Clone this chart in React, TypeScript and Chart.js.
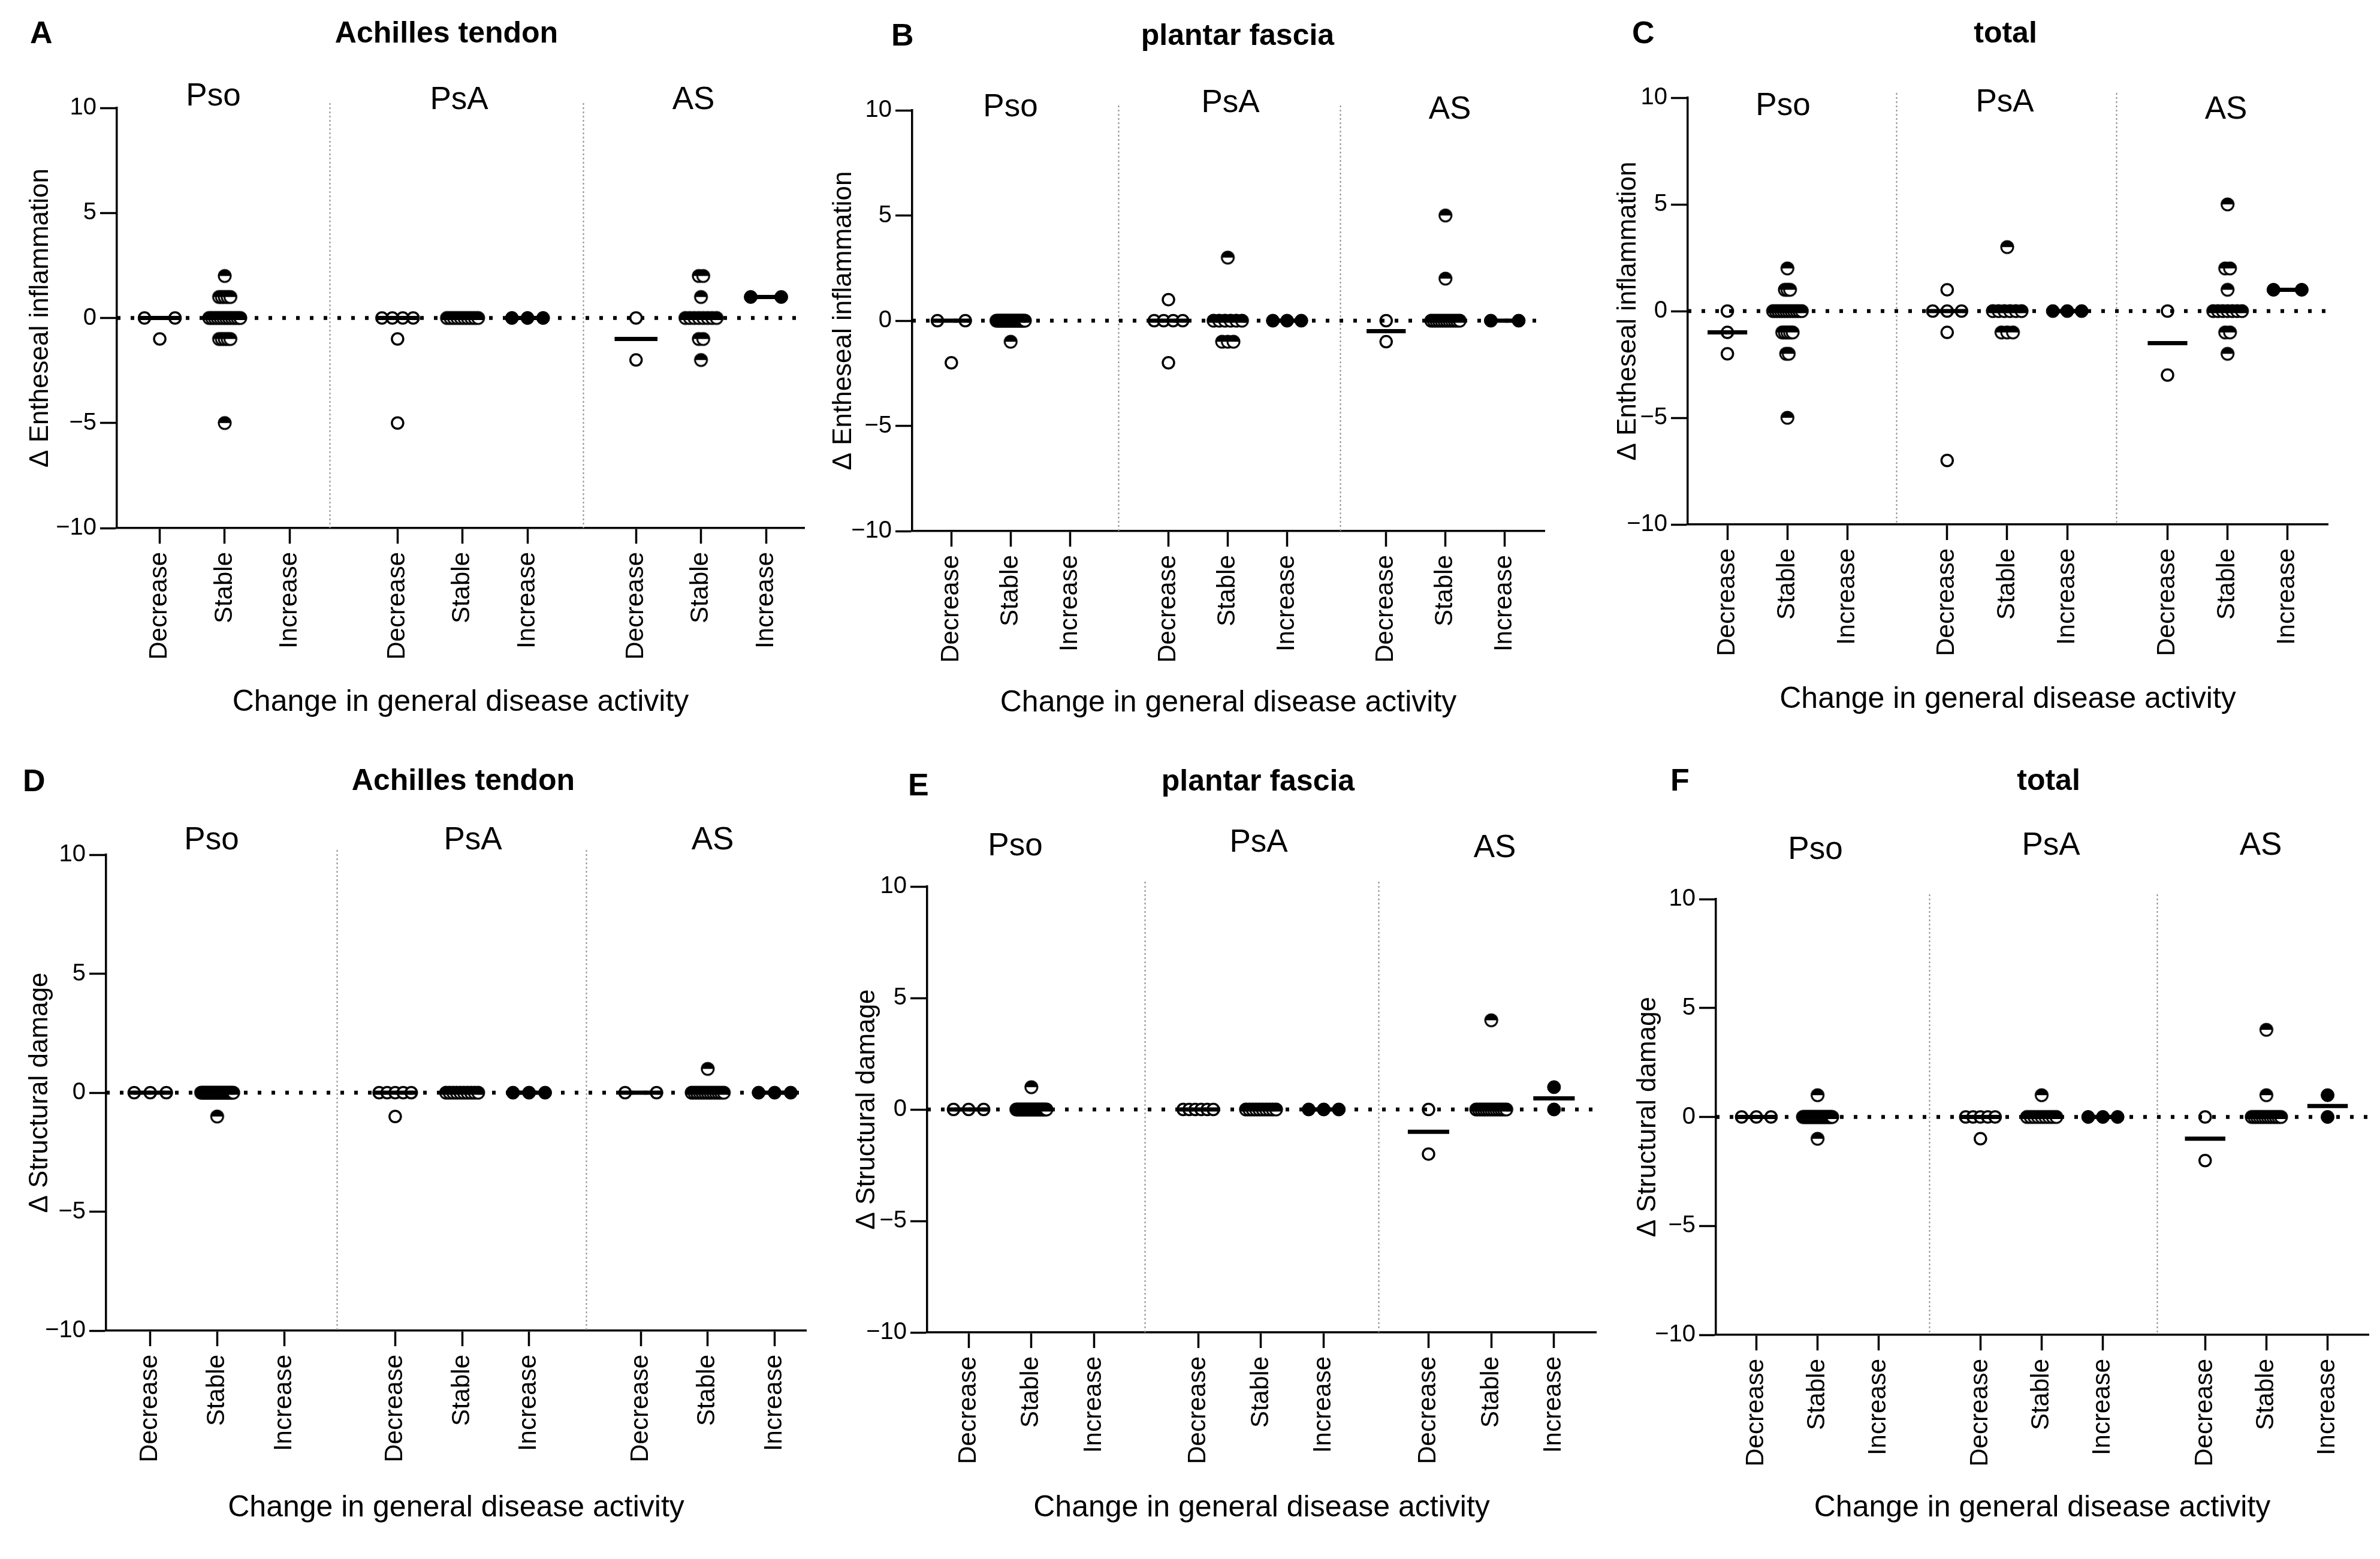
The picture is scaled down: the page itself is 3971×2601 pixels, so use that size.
import React, { useEffect, useRef } from "react";
import { Chart, registerables } from "chart.js";

Chart.register(...registerables);

const FONT = "'Liberation Sans', Arial, Helvetica, sans-serif";

// ---------- categories & ticks ----------
const ACTIVITY = ["Decrease", "Stable", "Increase"];
const GROUPS = ["Pso", "PsA", "AS"];
const CAT_POS = [0, 1, 2, 3.66, 4.66, 5.66, 7.33, 8.33, 9.33];
const Y_TICKS = [-10, -5, 0, 5, 10];
const X_TITLE = "Change in general disease activity";

// ---------- data: [Decrease, Stable, Increase] per disease group ----------
// A: Achilles tendon, entheseal inflammation
const A_PSO = [[0, 0, -1], [2, 1, 1, 1, 1, 1, 0, 0, 0, 0, 0, 0, 0, 0, 0, 0, 0, 0, -1, -1, -1, -1, -1, -5], []];
const A_PSA = [[0, 0, 0, 0, -1, -5], [0, 0, 0, 0, 0, 0, 0, 0, 0, 0], [0, 0, 0]];
const A_AS = [[0, -2], [2, 2, 1, 0, 0, 0, 0, 0, 0, 0, 0, -1, -1, -2], [1, 1]];
// B: plantar fascia, entheseal inflammation
const B_PSO = [[0, 0, -2], [0, 0, 0, 0, 0, 0, 0, 0, 0, 0, 0, 0, 0, 0, 0, 0, 0, 0, 0, 0, 0, 0, 0, -1], []];
const B_PSA = [[1, 0, 0, 0, 0, -2], [3, 0, 0, 0, 0, 0, 0, -1, -1, -1], [0, 0, 0]];
const B_AS = [[0, -1], [5, 2, 0, 0, 0, 0, 0, 0, 0, 0, 0, 0, 0, 0], [0, 0]];
// C: total, entheseal inflammation
const C_PSO = [[0, -1, -2], [2, 1, 1, 1, 0, 0, 0, 0, 0, 0, 0, 0, 0, 0, 0, 0, -1, -1, -1, -1, -1, -2, -2, -5], []];
const C_PSA = [[1, 0, 0, 0, -1, -7], [3, 0, 0, 0, 0, 0, 0, -1, -1, -1], [0, 0, 0]];
const C_AS = [[0, -3], [5, 2, 2, 1, 0, 0, 0, 0, 0, 0, 0, -1, -1, -2], [1, 1]];
// D: Achilles tendon, structural damage
const D_PSO = [[0, 0, 0], [0, 0, 0, 0, 0, 0, 0, 0, 0, 0, 0, 0, 0, 0, 0, 0, 0, 0, 0, 0, 0, 0, 0, -1], []];
const D_PSA = [[0, 0, 0, 0, 0, -1], [0, 0, 0, 0, 0, 0, 0, 0, 0, 0], [0, 0, 0]];
const D_AS = [[0, 0], [1, 0, 0, 0, 0, 0, 0, 0, 0, 0, 0, 0, 0, 0], [0, 0, 0]];
// E: plantar fascia, structural damage
const E_PSO = [[0, 0, 0], [1, 0, 0, 0, 0, 0, 0, 0, 0, 0, 0, 0, 0, 0, 0, 0, 0, 0, 0, 0, 0, 0, 0, 0], []];
const E_PSA = [[0, 0, 0, 0, 0, 0], [0, 0, 0, 0, 0, 0, 0, 0, 0, 0], [0, 0, 0]];
const E_AS = [[0, -2], [4, 0, 0, 0, 0, 0, 0, 0, 0, 0, 0, 0, 0, 0], [1, 0]];
// F: total, structural damage
const F_PSO = [[0, 0, 0], [1, 0, 0, 0, 0, 0, 0, 0, 0, 0, 0, 0, 0, 0, 0, 0, 0, 0, 0, 0, 0, 0, 0, -1], []];
const F_PSA = [[0, 0, 0, 0, 0, -1], [1, 0, 0, 0, 0, 0, 0, 0, 0, 0], [0, 0, 0]];
const F_AS = [[0, -2], [4, 1, 0, 0, 0, 0, 0, 0, 0, 0, 0, 0, 0, 0], [1, 0]];

// ---------- layout (pixels) ----------
type PanelDef = {
  letter: string; title: string; yTitle: string; data: number[][][];
  L: number; R: number; T: number; B: number; xMax: number; dividers: number[];
  yTitleX: number; xTitleY: number; letterPos: number[]; titlePos: number[]; groupPos: number[][];
};

const YT_INF = "Δ Entheseal inflammation";
const YT_STR = "Δ Structural damage";

const PANELS: PanelDef[] = [
  { letter: "A", title: "Achilles tendon", yTitle: YT_INF, data: [A_PSO, A_PSA, A_AS],
    L: 195, R: 1342, T: 180, B: 881, xMax: 9.92, dividers: [2.61, 6.52],
    yTitleX: 68, xTitleY: 1172, letterPos: [50, 35], titlePos: [745, 35],
    groupPos: [[356, 138], [766, 144], [1157, 144]] },
  { letter: "B", title: "plantar fascia", yTitle: YT_INF, data: [B_PSO, B_PSA, B_AS],
    L: 1522, R: 2577, T: 184, B: 886, xMax: 10.0, dividers: [2.82, 6.55],
    yTitleX: 1408, xTitleY: 1173, letterPos: [1487, 39], titlePos: [2065, 39],
    groupPos: [[1686, 156], [2053, 149], [2419, 160]] },
  { letter: "C", title: "total", yTitle: YT_INF, data: [C_PSO, C_PSA, C_AS],
    L: 2816, R: 3884, T: 163, B: 875, xMax: 10.0, dividers: [2.81, 6.48],
    yTitleX: 2717, xTitleY: 1167, letterPos: [2723, 35], titlePos: [3346, 35],
    groupPos: [[2975, 154], [3345, 148], [3714, 160]] },
  { letter: "D", title: "Achilles tendon", yTitle: YT_STR, data: [D_PSO, D_PSA, D_AS],
    L: 177, R: 1345, T: 1426, B: 2220, xMax: 9.8, dividers: [2.79, 6.51],
    yTitleX: 67, xTitleY: 2516, letterPos: [38, 1283], titlePos: [773, 1282],
    groupPos: [[353, 1379], [789, 1379], [1189, 1379]] },
  { letter: "E", title: "plantar fascia", yTitle: YT_STR, data: [E_PSO, E_PSA, E_AS],
    L: 1547, R: 2663, T: 1479, B: 2223, xMax: 10.0, dividers: [2.81, 6.53],
    yTitleX: 1447, xTitleY: 2516, letterPos: [1515, 1290], titlePos: [2099, 1283],
    groupPos: [[1694, 1389], [2100, 1383], [2494, 1392]] },
  { letter: "F", title: "total", yTitle: YT_STR, data: [F_PSO, F_PSA, F_AS],
    L: 2863, R: 3952, T: 1500, B: 2227, xMax: 10.0, dividers: [2.82, 6.54],
    yTitleX: 2750, xTitleY: 2516, letterPos: [2787, 1282], titlePos: [3418, 1282],
    groupPos: [[3029, 1395], [3422, 1388], [3772, 1388]] },
];

const X_MIN = -0.66;
const SPREAD = 0.48;
const MEDIAN_HALF = 0.33;

function swarm(values: number[], pos: number) {
  const rows = new Map<number, number>();
  values.forEach((v) => rows.set(v, (rows.get(v) || 0) + 1));
  let maxRow = 0;
  rows.forEach((n) => { if (n > maxRow) maxRow = n; });
  const step = maxRow > 1 ? Math.min(0.47, SPREAD / (maxRow - 1)) : 0;
  const seen = new Map<number, number>();
  return values.map((v) => {
    const n = rows.get(v) as number;
    const i = seen.get(v) || 0;
    seen.set(v, i + 1);
    return { x: pos + (i - (n - 1) / 2) * step, y: v };
  });
}

function median(values: number[]) {
  const s = [...values].sort((a, b) => a - b);
  const m = Math.floor(s.length / 2);
  return s.length % 2 ? s[m] : (s[m - 1] + s[m]) / 2;
}

let halfImg: HTMLCanvasElement | null = null;
function halfCircle() {
  if (halfImg) return halfImg;
  const c = document.createElement("canvas");
  c.width = 26; c.height = 26;
  const g = c.getContext("2d") as CanvasRenderingContext2D;
  const r = 10;
  g.beginPath(); g.arc(13, 13, r, 0, Math.PI * 2); g.fillStyle = "#fff"; g.fill();
  g.beginPath(); g.arc(13, 13, r, Math.PI, Math.PI * 2); g.closePath(); g.fillStyle = "#000"; g.fill();
  g.beginPath(); g.arc(13, 13, r, 0, Math.PI * 2); g.lineWidth = 3; g.strokeStyle = "#000"; g.stroke();
  halfImg = c;
  return c;
}

function Panel({ p }: { p: PanelDef }) {
  const ref = useRef<HTMLCanvasElement>(null);
  const canvasLeft = Math.max(0, p.yTitleX - 40);
  const padT = 40;
  const padR = Math.min(40, 3971 - p.R);
  const canvasTop = p.T - padT;
  const width = p.R + padR - canvasLeft;
  const yAxisW = p.L - canvasLeft;
  const xAxisH = p.xTitleY + 30 - p.B;
  const height = padT + (p.B - p.T) + xAxisH;
  const yTitleSize = 44;
  const yTitlePad = p.yTitleX - canvasLeft - (yTitleSize * 1.2) / 2;

  useEffect(() => {
    const half = halfCircle();
    const datasets: any[] = [];
    p.data.forEach((group, g) => {
      group.forEach((vals, c) => {
        if (!vals.length) return;
        const pos = CAT_POS[g * 3 + c];
        const common = { type: "scatter", data: swarm(vals, pos), order: 3 };
        if (c === 0) {
          datasets.push({ ...common, pointStyle: "circle", pointRadius: 9.5,
            pointBackgroundColor: "#fff", pointBorderColor: "#000", pointBorderWidth: 3.5 });
        } else if (c === 1) {
          datasets.push({ ...common, pointStyle: half, pointRadius: 11 });
        } else {
          datasets.push({ ...common, pointStyle: "circle", pointRadius: 11,
            pointBackgroundColor: "#000", pointBorderColor: "#000", pointBorderWidth: 1 });
        }
        const m = median(vals);
        datasets.push({ type: "line", order: 2,
          data: [{ x: pos - MEDIAN_HALF, y: m }, { x: pos + MEDIAN_HALF, y: m }],
          borderColor: "#000", borderWidth: 7, borderCapStyle: "butt", pointRadius: 0, fill: false });
      });
    });
    datasets.push({ type: "line", order: 1,
      data: [{ x: X_MIN, y: 0 }, { x: p.xMax, y: 0 }],
      borderColor: "#000", borderWidth: 6.5, borderDash: [6, 17], borderCapStyle: "butt",
      pointRadius: 0, fill: false });

    const dividerPlugin = {
      id: "dividers",
      beforeDatasetsDraw(chart: any) {
        const { ctx, chartArea, scales } = chart;
        ctx.save();
        ctx.strokeStyle = "#8f8f8f";
        ctx.lineWidth = 2;
        ctx.setLineDash([3, 4]);
        p.dividers.forEach((d) => {
          const px = Math.round(scales.x.getPixelForValue(d)) + 0.5;
          ctx.beginPath();
          ctx.moveTo(px, chartArea.top - 8);
          ctx.lineTo(px, chartArea.bottom);
          ctx.stroke();
        });
        ctx.restore();
      },
    };

    const chart = new Chart(ref.current as HTMLCanvasElement, {
      type: "scatter",
      data: { datasets },
      plugins: [dividerPlugin],
      options: {
        animation: false,
        responsive: false,
        devicePixelRatio: 1,
        events: [],
        layout: { padding: { left: 0, right: padR, top: padT, bottom: 0 } },
        plugins: { legend: { display: false }, tooltip: { enabled: false } },
        scales: {
          x: {
            type: "linear",
            min: X_MIN,
            max: p.xMax,
            afterBuildTicks: (s: any) => { s.ticks = CAT_POS.map((v) => ({ value: v })); },
            afterFit: (s: any) => { s.height = xAxisH; },
            ticks: {
              autoSkip: false, minRotation: 90, maxRotation: 90, padding: 14,
              color: "#000", font: { family: FONT, size: 42 },
              callback: (_v: any, i: number) => ACTIVITY[i % 3],
            },
            grid: { display: true, drawOnChartArea: false, drawTicks: true, tickLength: 26,
              tickWidth: 3.5, tickColor: "#000" },
            border: { display: true, color: "#000", width: 3.5 },
            title: { display: true, text: X_TITLE, color: "#000",
              font: { family: FONT, size: 50 }, padding: { top: 0, bottom: 0 } },
          },
          y: {
            type: "linear",
            min: -10,
            max: 10,
            afterBuildTicks: (s: any) => { s.ticks = Y_TICKS.map((v) => ({ value: v })); },
            afterFit: (s: any) => { s.width = yAxisW; },
            ticks: {
              padding: 6, color: "#000", font: { family: FONT, size: 40 },
              callback: (v: any) => (Number(v) < 0 ? "\u2212" + Math.abs(Number(v)) : String(v)),
            },
            grid: { display: true, drawOnChartArea: false, drawTicks: true, tickLength: 28,
              tickWidth: 3.5, tickColor: "#000" },
            border: { display: true, color: "#000", width: 3.5 },
            title: { display: true, text: p.yTitle, color: "#000",
              font: { family: FONT, size: yTitleSize }, padding: { top: yTitlePad, bottom: 0 } },
          },
        },
      } as any,
    } as any);
    return () => chart.destroy();
  }, []);

  const text = (s: string, x: number, capTop: number, size: number, bold: boolean, center: boolean, key: string) => (
    <div key={key} style={{
      position: "absolute", left: x, top: capTop - 0.13 * size, fontSize: size, lineHeight: 1,
      fontWeight: bold ? 700 : 400, fontFamily: FONT, color: "#000", whiteSpace: "nowrap",
      transform: center ? "translateX(-50%)" : undefined,
    }}>{s}</div>
  );

  return (
    <>
      <canvas ref={ref} width={width} height={height}
        style={{ position: "absolute", left: canvasLeft, top: canvasTop, width, height }} />
      {text(p.letter, p.letterPos[0], p.letterPos[1], 52, true, false, "l")}
      {text(p.title, p.titlePos[0], p.titlePos[1], 50, true, true, "t")}
      {GROUPS.map((g, i) => text(g, p.groupPos[i][0], p.groupPos[i][1], 53, false, true, "g" + i))}
    </>
  );
}

export default function App() {
  return (
    <div style={{ position: "absolute", left: 0, top: 0, width: 3971, height: 2601,
      overflow: "hidden", background: "#fff" }}>
      {PANELS.map((p) => <Panel key={p.letter} p={p} />)}
    </div>
  );
}
